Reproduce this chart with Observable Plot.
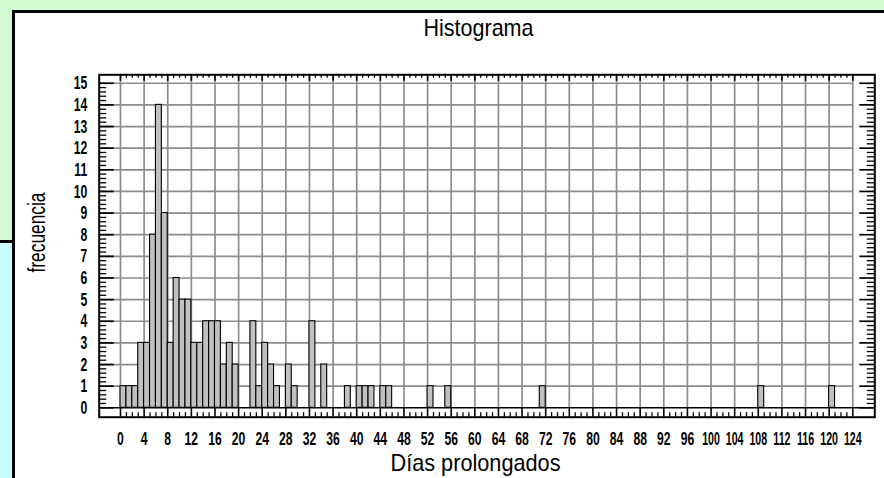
<!DOCTYPE html>
<html>
<head>
<meta charset="utf-8">
<script src="https://cdn.jsdelivr.net/npm/d3@7"></script>
<script src="https://cdn.jsdelivr.net/npm/@observablehq/plot@0.6"></script>
<style>
  html, body { margin: 0; padding: 0; }
  body { width: 884px; height: 478px; position: relative; overflow: hidden; background: #d2fad0; font-family: "Liberation Sans", Arial, sans-serif; }
  #strip { position: absolute; left: 0; top: 240px; width: 12px; height: 240px; background: #c6fcfc; border-top: 3px solid #000; }
  #panel { position: absolute; left: 12px; top: 10px; width: 900px; height: 500px; background: #fff; border: 3px solid #000; }
  #chart { position: absolute; left: 0; top: 0; }
  #chart svg { overflow: visible; }
</style>
</head>
<body>
<div id="strip"></div>
<div id="panel"></div>
<div id="chart"></div>
<script>
// ---- data ----
const dias = [0,1,2,3,4,5,6,7,8,9,10,11,12,13,14,15,16,17,18,19,22,23,24,25,26,28,29,32,34,38,40,41,42,44,45,52,55,71,108,120];
const frecuencia = [1,1,1,3,3,8,14,9,3,6,5,5,3,3,4,4,4,2,3,2,4,1,3,2,1,2,1,4,2,1,1,1,1,1,1,1,1,1,1,1];
const xTicks = [0,4,8,12,16,20,24,28,32,36,40,44,48,52,56,60,64,68,72,76,80,84,88,92,96,100,104,108,112,116,120,124];
const yTicks = [0,1,2,3,4,5,6,7,8,9,10,11,12,13,14,15];
const titulo = "Histograma";
const xTitulo = "Días prolongados";
const yTitulo = "frecuencia";

const bins = dias.map((d, i) => ({x0: d, x1: d + 1, n: frecuencia[i]}));
const xMinor = d3.range(xTicks[0], xTicks[xTicks.length - 1] + 1).filter(v => !xTicks.includes(v));
const yMinor = d3.range(0, 76).filter(i => i % 5).map(i => i / 5);

// ---- layout ----
const W = 884, H = 478;
const mL = 98.7, mR = 9.7, mT = 74.3, mB = 61.3;
const xDomain = [-3.607, 127.73];
const yDomain = [-0.4345, 15.391];
const pxX = (W - mL - mR) / (xDomain[1] - xDomain[0]);
const pxY = (H - mT - mB) / (yDomain[1] - yDomain[0]);
const xL = xDomain[0], xR = xDomain[1], yB = yDomain[0], yT = yDomain[1];
const grid = "#8c8c8c";
const ff = "Liberation Sans, Arial, sans-serif";

const plot = Plot.plot({
  width: W, height: H,
  marginLeft: mL, marginRight: mR, marginTop: mT, marginBottom: mB,
  x: {domain: xDomain, axis: null},
  y: {domain: yDomain, axis: null},
  style: {background: "transparent", fontFamily: ff, color: "#000"},
  marks: [
    // grid
    Plot.ruleX(xTicks, {x: d => d, y1: 0, y2: yT, stroke: grid, strokeWidth: 1.7}),
    Plot.ruleY(yTicks.slice(1), {y: d => d, x1: xL, x2: xTicks[xTicks.length - 1], stroke: grid, strokeWidth: 1.7}),
    // bars
    Plot.rectY(bins, {x1: "x0", x2: "x1", y: "n", fill: "#c0c0c0", stroke: "#000", strokeWidth: 1.1}),
    // baseline
    Plot.ruleY([0], {x1: xL, x2: xR, stroke: "#000", strokeWidth: 1.6}),
    // left ticks
    Plot.ruleY(yTicks, {y: d => d, x1: xL, x2: xL + 15 / pxX, stroke: "#000", strokeWidth: 1.7}),
    Plot.ruleY(yMinor, {y: d => d, x1: xL, x2: xL + 7.5 / pxX, stroke: "#000", strokeWidth: 1.3}),
    // right ticks
    Plot.ruleY(yTicks, {y: d => d, x1: xR, x2: xR - 15 / pxX, stroke: "#000", strokeWidth: 1.7}),
    Plot.ruleY(yMinor, {y: d => d, x1: xR, x2: xR - 7.5 / pxX, stroke: "#000", strokeWidth: 1.3}),
    // top ticks
    Plot.ruleX(xTicks, {x: d => d, y1: yT, y2: yT - 6.5 / pxY, stroke: "#000", strokeWidth: 1.6}),
    Plot.ruleX(xMinor, {x: d => d, y1: yT, y2: yT - 3.5 / pxY, stroke: "#000", strokeWidth: 1.3}),
    // bottom ticks
    Plot.ruleX(xTicks, {x: d => d, y1: 0, y2: yB, stroke: "#000", strokeWidth: 1.6}),
    Plot.ruleX(xMinor, {x: d => d, y1: yB, y2: yB + 4.5 / pxY, stroke: "#000", strokeWidth: 1.3}),
    // frame
    Plot.frame({stroke: "#000", strokeWidth: 2}),
    // tick labels (text mark 0, 1)
    Plot.text(yTicks, {x: xL, y: d => d, text: d => String(d), textAnchor: "end", lineAnchor: "middle", dx: -12, fontSize: 19, fontWeight: "bold", fill: "#000"}),
    Plot.text(xTicks, {x: d => d, y: yB, text: d => String(d), textAnchor: "middle", lineAnchor: "middle", dy: 21.5, fontSize: 19, fontWeight: "bold", fill: "#000"}),
    // titles (text mark 2, 3, 4)
    Plot.text([titulo], {frameAnchor: "top", text: d => d, textAnchor: "middle", lineAnchor: "middle", dx: -8.5, dy: -46, fontSize: 24, fill: "#000"}),
    Plot.text([xTitulo], {frameAnchor: "bottom", text: d => d, textAnchor: "middle", lineAnchor: "middle", dx: -11.5, dy: 46.6, fontSize: 24, fill: "#000"}),
    Plot.text([yTitulo], {frameAnchor: "left", text: d => d, rotate: -90, textAnchor: "middle", lineAnchor: "middle", dx: -61.1, dy: -13.5, fontSize: 23, fill: "#000"})
  ]
});

document.getElementById("chart").append(plot);

const textGroups = plot.querySelectorAll('g[aria-label="text"]');
function squeeze(g, factor, fixed) {
  if (!g) return;
  g.querySelectorAll("text").forEach(t => {
    const L = t.getComputedTextLength();
    const f = (t.textContent.length >= 3) ? Math.min(factor || 1, 0.56) : factor;
    t.setAttribute("textLength", fixed != null ? fixed : L * f);
    t.setAttribute("lengthAdjust", "spacingAndGlyphs");
  });
}
squeeze(textGroups[0], 0.64);
squeeze(textGroups[1], 0.64);
squeeze(textGroups[2], null, 110);
squeeze(textGroups[3], null, 170);
squeeze(textGroups[4], null, 80);
</script>
</body>
</html>
